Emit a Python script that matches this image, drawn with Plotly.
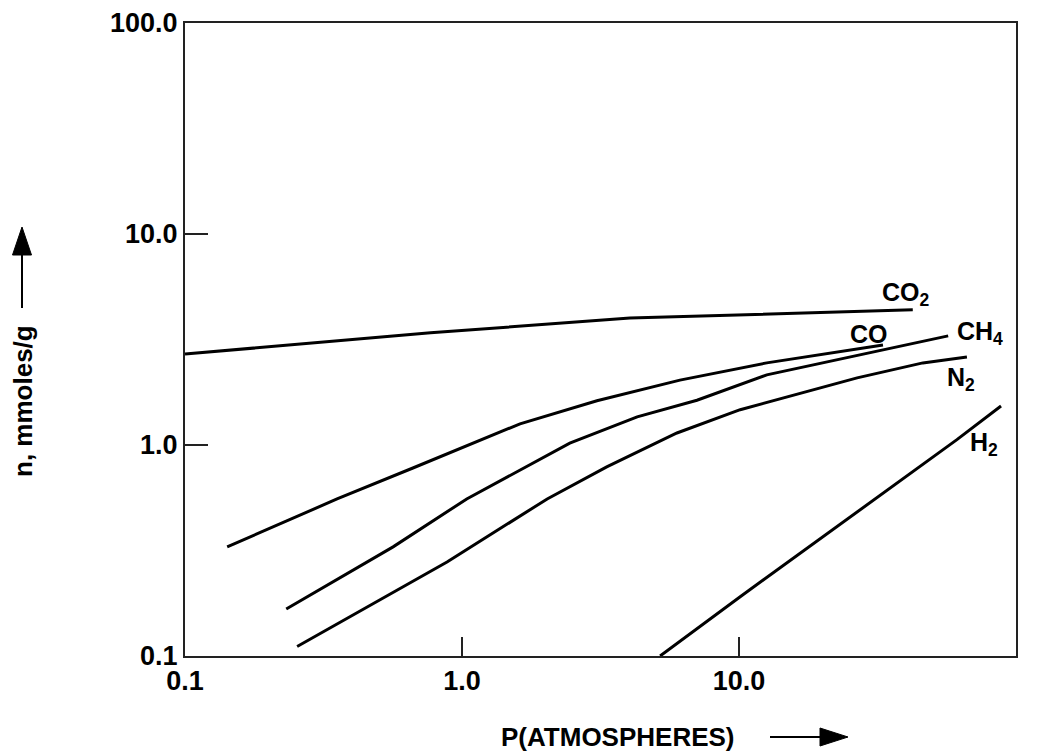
import math
import plotly.graph_objects as go

# ---------------- data ----------------
co2_p = [0.1, 0.77, 4.04, 42.4]
co2_n = [2.70, 3.40, 4.00, 4.37]

co_p = [0.142, 0.354, 0.665, 1.62, 3.07, 6.12, 12.6, 33.1]
co_n = [0.329, 0.555, 0.778, 1.26, 1.62, 2.03, 2.45, 2.98]

ch4_p = [0.232, 0.564, 1.04, 2.45, 4.29, 7.05, 12.6, 29.0, 56.9]
ch4_n = [0.167, 0.329, 0.555, 1.02, 1.36, 1.63, 2.15, 2.73, 3.29]

n2_p = [0.254, 0.883, 2.03, 3.33, 5.97, 10.1, 26.7, 46.1, 66.5]
n2_n = [0.111, 0.279, 0.555, 0.787, 1.14, 1.47, 2.08, 2.45, 2.61]

h2_p = [5.19, 10.1, 61.2, 88.3]
h2_n = [0.10, 0.191, 1.06, 1.53]

# curve labels: text, P, n (left edge / middle of capitals)
label_text = ["CO<sub>2</sub>", "CO", "CH<sub>4</sub>", "N<sub>2</sub>", "H<sub>2</sub>"]
label_p = [32.3, 24.8, 60.3, 55.5, 67.1]
label_n = [5.20, 3.36, 3.40, 2.06, 1.006]

tick_vals = [0.1, 1, 10, 100]
tick_text = ["0.1", "1.0", "10.0", "100.0"]

x_title = "P(ATMOSPHERES)"
y_title = "n, mmoles/g"

FONT = "Liberation Sans, Arial, Helvetica, sans-serif"

# page has an 8px body margin: compensate so the plot lands where the reference has it
OFF = 8
W, H = 1047 - OFF, 754 - OFF
PLOT_L, PLOT_T, PLOT_R, PLOT_B = 185, 23, 1016, 656      # reference pixel frame
L, T = PLOT_L - OFF, PLOT_T - OFF
pw, ph = PLOT_R - PLOT_L, PLOT_B - PLOT_T
R, B = W - L - pw, H - T - ph


def px(x):
    return (x - PLOT_L) / pw


def py(y):
    return (PLOT_B - y) / ph


fig = go.Figure()
for xs, ys in [(co2_p, co2_n), (co_p, co_n), (ch4_p, ch4_n), (n2_p, n2_n), (h2_p, h2_n)]:
    fig.add_trace(go.Scatter(x=xs, y=ys, mode="lines",
                             line=dict(color="black", width=3),
                             showlegend=False, hoverinfo="skip"))

annotations = []
for t, p, n in zip(label_text, label_p, label_n):
    annotations.append(dict(x=math.log10(p), y=math.log10(n), xref="x", yref="y",
                            text=t, showarrow=False, xanchor="left", yanchor="middle",
                            font=dict(family=FONT, size=25, color="black", weight="bold")))

# axis titles as annotations
annotations.append(dict(x=px(499), y=py(737), xref="paper", yref="paper", text=x_title,
                        showarrow=False, xanchor="left", yanchor="middle",
                        font=dict(family=FONT, size=26, color="black", weight="bold")))
annotations.append(dict(x=px(23), y=py(401), xref="paper", yref="paper", text=y_title,
                        showarrow=False, xanchor="center", yanchor="middle", textangle=-90,
                        font=dict(family=FONT, size=26, color="black", weight="bold")))

shapes = [
    # x arrow
    dict(type="line", xref="paper", yref="paper", x0=px(770), x1=px(825), y0=py(737), y1=py(737),
         line=dict(color="black", width=2)),
    dict(type="path", xref="paper", yref="paper",
         path=f"M {px(820)},{py(728)} L {px(848)},{py(737)} L {px(820)},{py(746)} Z",
         fillcolor="black", line=dict(color="black", width=1)),
    # y arrow
    dict(type="line", xref="paper", yref="paper", x0=px(22), x1=px(22), y0=py(308), y1=py(250),
         line=dict(color="black", width=2)),
    dict(type="path", xref="paper", yref="paper",
         path=f"M {px(12.5)},{py(255)} L {px(22)},{py(227)} L {px(31.5)},{py(255)} Z",
         fillcolor="black", line=dict(color="black", width=1)),
]

axis_common = dict(type="log", range=[-1, 2], tickvals=tick_vals, ticktext=tick_text,
                   ticks="inside", tickcolor="#222", tickwidth=1.5,
                   showline=True, linecolor="#222", linewidth=2, mirror=True,
                   showgrid=False, zeroline=False, automargin=False,
                   tickfont=dict(family=FONT, size=27, color="black", weight="bold"))

fig.update_layout(
    width=W, height=H,
    margin=dict(l=L, r=R, t=T, b=B, autoexpand=False),
    paper_bgcolor="white", plot_bgcolor="white",
    xaxis=dict(**axis_common, ticklen=19),
    yaxis=dict(**axis_common, ticklen=23),
    annotations=annotations,
    shapes=shapes,
)

fig.write_html("out.html")
